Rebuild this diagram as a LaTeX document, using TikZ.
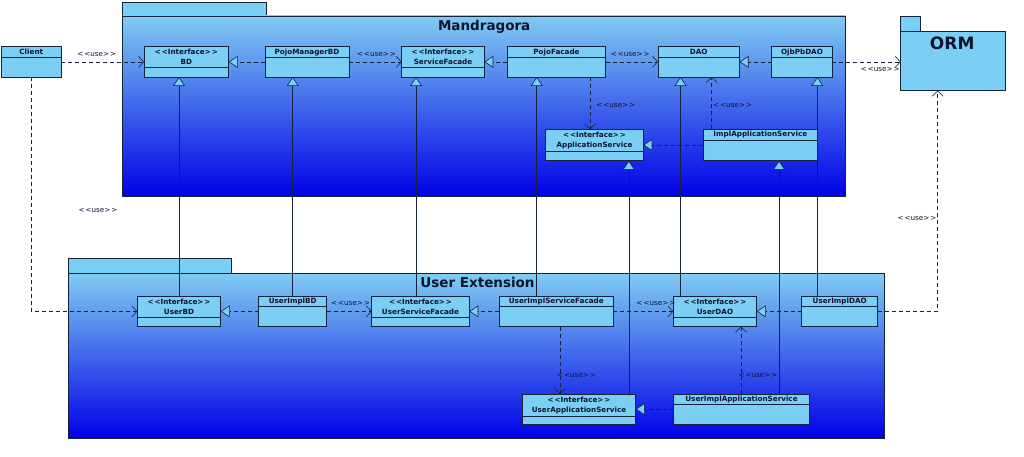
\documentclass[tikz,border=0pt]{standalone}
\usepackage{fontspec}
\setmainfont{DejaVu Sans}
\usetikzlibrary{arrows.meta}
\definecolor{uml line color}{HTML}{14223C}
\definecolor{uml text color}{HTML}{0E1430}
\definecolor{class fill color}{HTML}{7CCFF4}
\definecolor{package top color}{HTML}{80CCF2}
\definecolor{package middle color}{HTML}{4468FF}
\definecolor{package bottom color}{HTML}{0000E6}
\newcommand{\stereo}[1]{<\kern1pt<#1>\kern1pt>}
\tikzset{
    x={1pt},
    y={-1pt},
    class box/.style={
        draw=uml line color, fill=class fill color,
        line width={0.8pt},
        inner sep=0pt, outer sep=0pt,
    },
    class rule/.style={
        draw=uml line color,
        line width={0.8pt},
    },
    class title/.style={
        font={\fontsize{7.2}{9.8}\selectfont\bfseries},
        text=uml text color,
        align=center,
        inner sep=0pt,
    },
    package body/.style={
        draw=uml line color,
        line width={0.8pt},
        top color=package top color,
        middle color=package middle color,
        bottom color=package bottom color,
    },
    package tab/.style={
        draw=uml line color, fill=class fill color,
        line width={0.8pt},
    },
    package title/.style={
        font={\fontsize{#1}{#1}\selectfont\bfseries},
        text=uml text color,
        inner sep=0pt,
        anchor=base,
    },
    package title/.default={13.5},
    uses/.style={
        draw=uml line color,
        line width={0.6pt},
        dash pattern=on 4pt off 3pt,
        -{Straight Barb[length=5pt,width=11pt]},
    },
    realizes/.style={
        draw=uml line color,
        line width={0.6pt},
        dash pattern=on 4pt off 3pt,
        -{Triangle[length=9pt,width=12pt,fill=class fill color]},
    },
    generalizes/.style={
        draw=uml line color,
        line width={0.6pt},
        -{Triangle[length=9pt,width=12pt,fill=class fill color]},
    },
    use label/.style={
        font={\fontsize{7.2}{8}\selectfont},
        text=uml text color,
        inner sep=0pt,
    },
}
% name, x1, y1, x2, y2, rule y, title
\newcommand{\umlclass}[7]{%
    \node[class box, minimum width={#4-#2}, minimum height={#5-#3}] (#1) at ({(#2+#4)/2},{(#3+#5)/2}) {};
    \draw[class rule] (#1.west |- 0,#6) -- (#1.east |- 0,#6);
    \node[class title] (#1 title) at ({(#2+#4)/2},{(#3+#6)/2+0.3}) {#7};
}

\begin{document}
\begin{tikzpicture}
\useasboundingbox[fill=white] (0,0) rectangle (1024,457);
% packages
\path[package tab] (122.7,2) rectangle (266.7,16);
\path[package body] (122.7,16) rectangle (845.7,196.7);
\node[package title] (mandragora title) at (484.2,30.3) {Mandragora};
\path[package tab] (68,258.3) rectangle (231,273.3);
\path[package body] (68,273.3) rectangle (884.3,438.3);
\node[package title] (extension title) at (477.5,287.5) {User Extension};
\path[package tab] (900.7,16) rectangle (920.7,31.7);
\node[class box, minimum width={105}, minimum height={59}] (orm) at (953.2,61.2) {};
\node[package title={17}] (orm title) at (952.2,49.5) {ORM};
% classes
\umlclass{client}{1.5}{46.7}{61}{77}{57}{Client}
\umlclass{bd}{144}{46.7}{228.7}{77}{67}{\stereo{Interface}\\BD}
\umlclass{pmbd}{265}{46.7}{349}{77}{57}{PojoManagerBD}
\umlclass{sf}{401.7}{46.7}{484.3}{77}{67}{\stereo{Interface}\\ServiceFacade}
\umlclass{pf}{507.3}{46.7}{605.7}{77}{57}{PojoFacade}
\umlclass{dao}{658}{46.7}{739.5}{77}{57}{DAO}
\umlclass{ojb}{771.7}{46.7}{832.3}{77}{57}{OjbPbDAO}
\umlclass{appsvc}{545.7}{129.3}{643.3}{160.7}{151}{\stereo{Interface}\\ApplicationService}
\umlclass{implapp}{703.3}{129.3}{817.3}{160.7}{140}{ImplApplicationService}
\umlclass{ubd}{137.3}{296}{220.7}{326.7}{317.3}{\stereo{Interface}\\UserBD}
\umlclass{uibd}{258.7}{296}{326.7}{326.7}{306.7}{UserImplBD}
\umlclass{usf}{371.7}{296}{469.3}{326.7}{317.3}{\stereo{Interface}\\UserServiceFacade}
\umlclass{uisf}{499.3}{296}{613.3}{326.7}{306.7}{UserImplServiceFacade}
\umlclass{udao}{673.3}{296}{756.7}{326.7}{317.3}{\stereo{Interface}\\UserDAO}
\umlclass{uidao}{801.7}{296}{877.7}{326.7}{306.7}{UserImplDAO}
\umlclass{uappsvc}{522.3}{394}{635.7}{424.3}{416}{\stereo{Interface}\\UserApplicationService}
\umlclass{uimplapp}{673.7}{394}{809.3}{424.3}{404.3}{UserImplApplicationService}
% dependencies
\draw[uses] (client.east) -- node[use label, pos=0.43, above=5pt] {\stereo{use}} (bd.west);
\draw[uses] (pmbd.east) -- node[use label, pos=0.52, above=5pt] {\stereo{use}} (sf.west);
\draw[uses] (pf.east) -- node[use label, pos=0.47, above=5pt] {\stereo{use}} (dao.west);
\draw[uses] (ojb.east) -- node[use label, pos=0.7, below=5pt] {\stereo{use}} (ojb.east -| orm.west);
\draw[uses] (590,0 |- pf.south) -- node[use label, pos=0.54, right=6pt] {\stereo{use}} (590,0 |- appsvc.north);
\draw[uses] (711.7,0 |- implapp.north) -- node[use label, pos=0.45, right=1pt] {\stereo{use}} (711.7,0 |- dao.south);
\draw[uses] (client.south) |- node[use label, pos=0.284, right=47pt] {\stereo{use}} (ubd.west);
\draw[uses] (uibd.east) -- node[use label, pos=0.53, above=5pt] {\stereo{use}} (usf.west);
\draw[uses] (uisf.east) -- node[use label, pos=0.71, above=5pt] {\stereo{use}} (udao.west);
\draw[uses] (uidao.east) -| node[use label, pos=0.71, left=1pt] {\stereo{use}} (937.7,0 |- orm.south);
\draw[uses] (560,0 |- uisf.south) -- node[use label, pos=0.72, right=-3.3pt] {\stereo{use}} (560,0 |- uappsvc.north);
\draw[uses] (741,0 |- uimplapp.north) -- node[use label, pos=0.28, right=-2.7pt] {\stereo{use}} (741,0 |- udao.south);
% realizations
\draw[realizes] (pmbd.west) -- (bd.east);
\draw[realizes] (pf.west) -- (sf.east);
\draw[realizes] (ojb.west) -- (dao.east);
\draw[realizes] (implapp.west) -- (appsvc.east);
\draw[realizes] (uibd.west) -- (ubd.east);
\draw[realizes] (uisf.west) -- (usf.east);
\draw[realizes] (uidao.west) -- (udao.east);
\draw[realizes] (uimplapp.west) -- (uappsvc.east);
% generalizations
\draw[generalizes] (ubd.north) -- (ubd.north |- bd.south);
\draw[generalizes] (uibd.north) -- (uibd.north |- pmbd.south);
\draw[generalizes] (416,0 |- usf.north) -- (416,0 |- sf.south);
\draw[generalizes] (536.7,0 |- uisf.north) -- (536.7,0 |- pf.south);
\draw[generalizes] (680.5,0 |- udao.north) -- (680.5,0 |- dao.south);
\draw[generalizes] (817.3,0 |- uidao.north) -- (817.3,0 |- ojb.south);
\draw[generalizes] (628.8,0 |- uappsvc.north) -- (628.8,0 |- appsvc.south);
\draw[generalizes] (779,0 |- uimplapp.north) -- (779,0 |- implapp.south);
\end{tikzpicture}
\end{document}
